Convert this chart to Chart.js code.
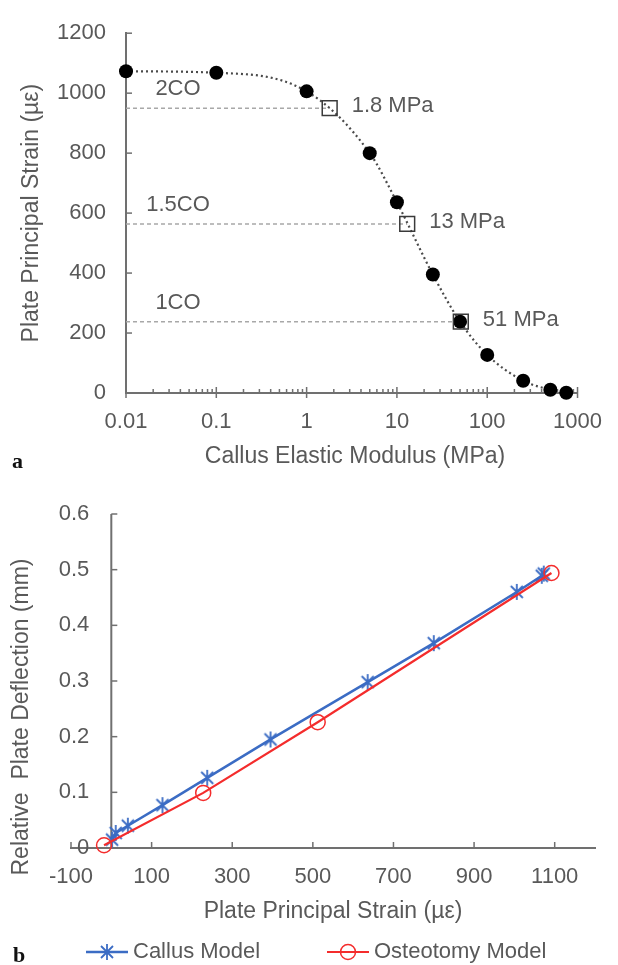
<!DOCTYPE html>
<html>
<head>
<meta charset="utf-8">
<script src="https://cdn.jsdelivr.net/npm/chart.js@4/dist/chart.umd.min.js"></script>
<style>
html,body{margin:0;padding:0;background:#fff;}
#wrap{position:relative;width:618px;height:965px;overflow:hidden;}
#c1{position:absolute;left:0;top:0;}
#c2{position:absolute;left:0;top:470px;}
</style>
</head>
<body>
<div id="wrap">
<canvas id="c1" width="618" height="470"></canvas>
<canvas id="c2" width="618" height="495"></canvas>
</div>
<script>
// ---------- Panel a data ----------
const modulusMPa   = [0.01, 0.1, 1, 5, 10, 25, 50, 100, 250, 500, 750];
const plateStrain  = [1073, 1068, 1006, 800, 636, 395, 238, 127, 41, 11, 1];
const coLabels     = ['2CO', '1.5CO', '1CO'];
const coModulus    = [1.8, 13, 51];
const coStrain     = [950, 564, 238];
const xTicksTop    = [0.01, 0.1, 1, 10, 100, 1000];
const xTickLabelsTop = ['0.01', '0.1', '1', '10', '100', '1000'];
const yTicksTop    = [0, 200, 400, 600, 800, 1000, 1200];
const yTickLabelsTop = ['0', '200', '400', '600', '800', '1000', '1200'];
const xTitleTop = 'Callus Elastic Modulus (MPa)';
const yTitleTop = 'Plate Principal Strain (µε)';

// ---------- Panel b data ----------
const callusStrain     = [1073, 1068, 1006, 800, 636, 395, 238, 127, 41, 11, 2];
const callusDeflection = [0.493, 0.489, 0.460, 0.368, 0.298, 0.195, 0.126, 0.077, 0.040, 0.027, 0.015];
const osteoStrain      = [-18, 228, 512, 1092];
const osteoDeflection  = [0.005, 0.099, 0.226, 0.494];
const seriesNames      = ['Callus Model', 'Osteotomy Model'];
const xTicksBottom     = [-100, 100, 300, 500, 700, 900, 1100];
const xTickLabelsBottom = ['-100', '100', '300', '500', '700', '900', '1100'];
const yTicksBottom     = [0, 0.1, 0.2, 0.3, 0.4, 0.5, 0.6];
const yTickLabelsBottom = ['0', '0.1', '0.2', '0.3', '0.4', '0.5', '0.6'];
const xTitleBottom = 'Plate Principal Strain (µε)';
const yTitleBottom = 'Relative  Plate Deflection (mm)';

// ---------- styles ----------
const TXT = '#595959';
const AXIS = '#707070';
const FONT = '"Liberation Sans", Arial, sans-serif';
const BLUE = '#3B6CC4';
const RED = '#F42C2C';

// asterisk marker (Excel-like star)
function makeStar(color) {
  const c = document.createElement('canvas');
  c.width = 18; c.height = 18;
  const g = c.getContext('2d');
  g.strokeStyle = color; g.lineWidth = 1.8; g.lineCap = 'butt';
  g.beginPath();
  g.moveTo(3, 3); g.lineTo(15, 15);
  g.moveTo(15, 3); g.lineTo(3, 15);
  g.moveTo(9, 1); g.lineTo(9, 17);
  g.stroke();
  return c;
}
const starImg = makeStar(BLUE);

// ---------- Panel a ----------
const topPlugin = {
  id: 'topDecor',
  beforeDatasetsDraw(chart) {
    const {ctx, chartArea: a, scales: {x, y}} = chart;
    ctx.save();
    ctx.strokeStyle = AXIS; ctx.lineWidth = 1.5;
    yTicksTop.forEach(v => {
      const py = y.getPixelForValue(v);
      ctx.beginPath(); ctx.moveTo(a.left, py); ctx.lineTo(a.left + 6, py); ctx.stroke();
    });
    xTicksTop.forEach((v, i) => {
      const px = x.getPixelForValue(v);
      ctx.beginPath(); ctx.moveTo(px, a.bottom - 6); ctx.lineTo(px, a.bottom + 5); ctx.stroke();
      if (i < xTicksTop.length - 1) {
        for (let k = 2; k <= 9; k++) {
          const mx = x.getPixelForValue(k * v);
          ctx.beginPath(); ctx.moveTo(mx, a.bottom); ctx.lineTo(mx, a.bottom - 4); ctx.stroke();
        }
      }
    });
    ctx.restore();
  },
  afterDraw(chart) {
    const {ctx, chartArea: a, scales: {x, y}} = chart;
    ctx.save();
    ctx.fillStyle = TXT;
    ctx.textBaseline = 'middle';
    ctx.textAlign = 'center';
    ctx.font = '23px ' + FONT;
    ctx.fillText(xTitleTop, 355, 457);
    ctx.save();
    ctx.translate(32, (a.top + a.bottom) / 2);
    ctx.rotate(-Math.PI / 2);
    ctx.fillText(yTitleTop, 0, 0);
    ctx.restore();
    ctx.font = '22px ' + FONT;
    coLabels.forEach((t, i) => {
      const py = y.getPixelForValue(coStrain[i]);
      const px = x.getPixelForValue(coModulus[i]);
      ctx.textAlign = 'center';
      ctx.fillText(t, a.left + 52, py - 19);
      ctx.textAlign = 'left';
      ctx.fillText(coModulus[i] + ' MPa', px + 22, py - 2);
    });
    ctx.fillStyle = '#111';
    ctx.font = 'bold 22px "Liberation Serif", serif';
    ctx.textAlign = 'left';
    ctx.fillText('a', 12, 462);
    ctx.restore();
  }
};

const topPts = modulusMPa.map((m, i) => ({x: m, y: plateStrain[i]}));
new Chart(document.getElementById('c1'), {
  type: 'line',
  data: {
    datasets: [
      ...coStrain.map((s, i) => ({
        label: coLabels[i],
        data: [{x: xTicksTop[0], y: s}, {x: coModulus[i], y: s}],
        borderColor: '#a8a8a8', borderWidth: 1.5, borderDash: [4, 3],
        pointRadius: 0, order: 5
      })),
      {
        label: 'trend', data: topPts,
        borderColor: '#4a4a4a', borderWidth: 2.2, borderDash: [2, 3],
        cubicInterpolationMode: 'monotone', pointRadius: 0, order: 4, clip: false
      },
      {
        label: 'FE results', data: topPts, showLine: false, clip: false,
        pointRadius: 7, pointBackgroundColor: '#000', pointBorderWidth: 0, order: 2
      },
      {
        label: 'CO moduli', data: coModulus.map((m, i) => ({x: m, y: coStrain[i]})), showLine: false, clip: false,
        pointStyle: 'rect', pointRadius: 10.5, pointBackgroundColor: 'rgba(0,0,0,0)',
        pointBorderColor: '#3a3a3a', pointBorderWidth: 1.5, order: 1
      }
    ]
  },
  options: {
    responsive: false, animation: false, events: [],
    layout: {padding: {left: 0, top: 21, right: 27, bottom: 0}},
    plugins: {legend: {display: false}, tooltip: {enabled: false}},
    scales: {
      x: {
        type: 'logarithmic', min: xTicksTop[0], max: xTicksTop[xTicksTop.length - 1],
        afterBuildTicks: s => { s.ticks = xTicksTop.map(v => ({value: v})); },
        afterFit: s => { s.height = 77; },
        grid: {drawOnChartArea: false, drawTicks: false},
        border: {display: true, color: AXIS, width: 2},
        ticks: {autoSkip: false, maxRotation: 0, padding: 16, color: TXT,
                font: {family: FONT, size: 22}, callback: (v, i) => xTickLabelsTop[i]}
      },
      y: {
        type: 'linear', min: yTicksTop[0], max: yTicksTop[yTicksTop.length - 1],
        afterBuildTicks: s => { s.ticks = yTicksTop.map(v => ({value: v})); },
        afterFit: s => { s.width = 126; },
        grid: {drawOnChartArea: false, drawTicks: false},
        border: {display: true, color: AXIS, width: 2},
        ticks: {autoSkip: false, padding: 20, color: TXT,
                font: {family: FONT, size: 22}, callback: (v, i) => yTickLabelsTop[i]}
      }
    }
  },
  plugins: [topPlugin]
});

// ---------- Panel b ----------
const bottomPlugin = {
  id: 'bottomDecor',
  beforeDatasetsDraw(chart) {
    const {ctx, chartArea: a, scales: {x, y}} = chart;
    ctx.save();
    ctx.strokeStyle = AXIS; ctx.lineWidth = 1.5;
    xTicksBottom.forEach(v => {
      const px = x.getPixelForValue(v);
      ctx.beginPath(); ctx.moveTo(px, a.bottom); ctx.lineTo(px, a.bottom - 6); ctx.stroke();
    });
    const ax = x.getPixelForValue(0);
    ctx.lineWidth = 2;
    ctx.beginPath(); ctx.moveTo(ax, y.getPixelForValue(yTicksBottom[yTicksBottom.length - 1]));
    ctx.lineTo(ax, y.getPixelForValue(yTicksBottom[0])); ctx.stroke();
    ctx.lineWidth = 1.5;
    ctx.fillStyle = TXT;
    ctx.font = '22px ' + FONT;
    ctx.textBaseline = 'middle';
    ctx.textAlign = 'right';
    yTicksBottom.forEach((v, i) => {
      const py = y.getPixelForValue(v);
      ctx.beginPath(); ctx.moveTo(ax, py); ctx.lineTo(ax + 6, py); ctx.stroke();
      ctx.fillText(yTickLabelsBottom[i], ax - 22, py);
    });
    ctx.restore();
  },
  afterDraw(chart) {
    const {ctx, chartArea: a} = chart;
    ctx.save();
    ctx.fillStyle = TXT;
    ctx.textBaseline = 'middle';
    ctx.textAlign = 'center';
    ctx.font = '23px ' + FONT;
    ctx.fillText(xTitleBottom, (a.left + a.right) / 2, 442);
    ctx.save();
    ctx.translate(22, 247);
    ctx.rotate(-Math.PI / 2);
    ctx.fillText(yTitleBottom, 0, 0);
    ctx.restore();
    // legend
    ctx.font = '22px ' + FONT;
    const ly = 482;
    const starts = [86, 327];
    chart.data.datasets.forEach((ds, i) => {
      const x0 = starts[i];
      ctx.strokeStyle = ds.borderColor; ctx.lineWidth = ds.borderWidth;
      ctx.beginPath(); ctx.moveTo(x0, ly); ctx.lineTo(x0 + 42, ly); ctx.stroke();
      const cx = x0 + 21;
      if (ds.pointStyle === 'circle') {
        ctx.lineWidth = ds.pointBorderWidth;
        ctx.strokeStyle = ds.pointBorderColor;
        ctx.beginPath(); ctx.arc(cx, ly, ds.pointRadius, 0, Math.PI * 2); ctx.stroke();
      } else {
        ctx.drawImage(ds.pointStyle, cx - ds.pointStyle.width / 2, ly - ds.pointStyle.height / 2);
      }
      ctx.fillStyle = TXT;
      ctx.textAlign = 'left';
      ctx.fillText(ds.label, x0 + 47, ly);
    });
    ctx.fillStyle = '#111';
    ctx.font = 'bold 22px "Liberation Serif", serif';
    ctx.textAlign = 'left';
    ctx.fillText('b', 13, 486);
    ctx.restore();
  }
};

new Chart(document.getElementById('c2'), {
  type: 'scatter',
  data: {
    datasets: [
      {
        label: seriesNames[0],
        data: callusStrain.map((s, i) => ({x: s, y: callusDeflection[i]})),
        showLine: true, borderColor: BLUE, borderWidth: 2.5, clip: false,
        pointStyle: starImg, pointRadius: 8, order: 2
      },
      {
        label: seriesNames[1],
        data: osteoStrain.map((s, i) => ({x: s, y: osteoDeflection[i]})),
        showLine: true, borderColor: RED, borderWidth: 2.2, clip: false,
        pointStyle: 'circle', pointRadius: 7.5, pointBackgroundColor: 'rgba(0,0,0,0)',
        pointBorderColor: RED, pointBorderWidth: 1.5, order: 1
      }
    ]
  },
  options: {
    responsive: false, animation: false, events: [],
    layout: {padding: {left: 71, top: 44, right: 23, bottom: 0}},
    plugins: {legend: {display: false}, tooltip: {enabled: false}},
    scales: {
      x: {
        type: 'linear', min: -100, max: 1200,
        afterBuildTicks: s => { s.ticks = xTicksBottom.map(v => ({value: v})); },
        afterFit: s => { s.height = 117; },
        grid: {drawOnChartArea: false, drawTicks: false},
        border: {display: true, color: AXIS, width: 2},
        ticks: {autoSkip: false, maxRotation: 0, padding: 16, color: TXT,
                font: {family: FONT, size: 22}, callback: (v, i) => xTickLabelsBottom[i]}
      },
      y: {
        type: 'linear', min: yTicksBottom[0], max: yTicksBottom[yTicksBottom.length - 1],
        display: false
      }
    }
  },
  plugins: [bottomPlugin]
});
</script>
</body>
</html>
